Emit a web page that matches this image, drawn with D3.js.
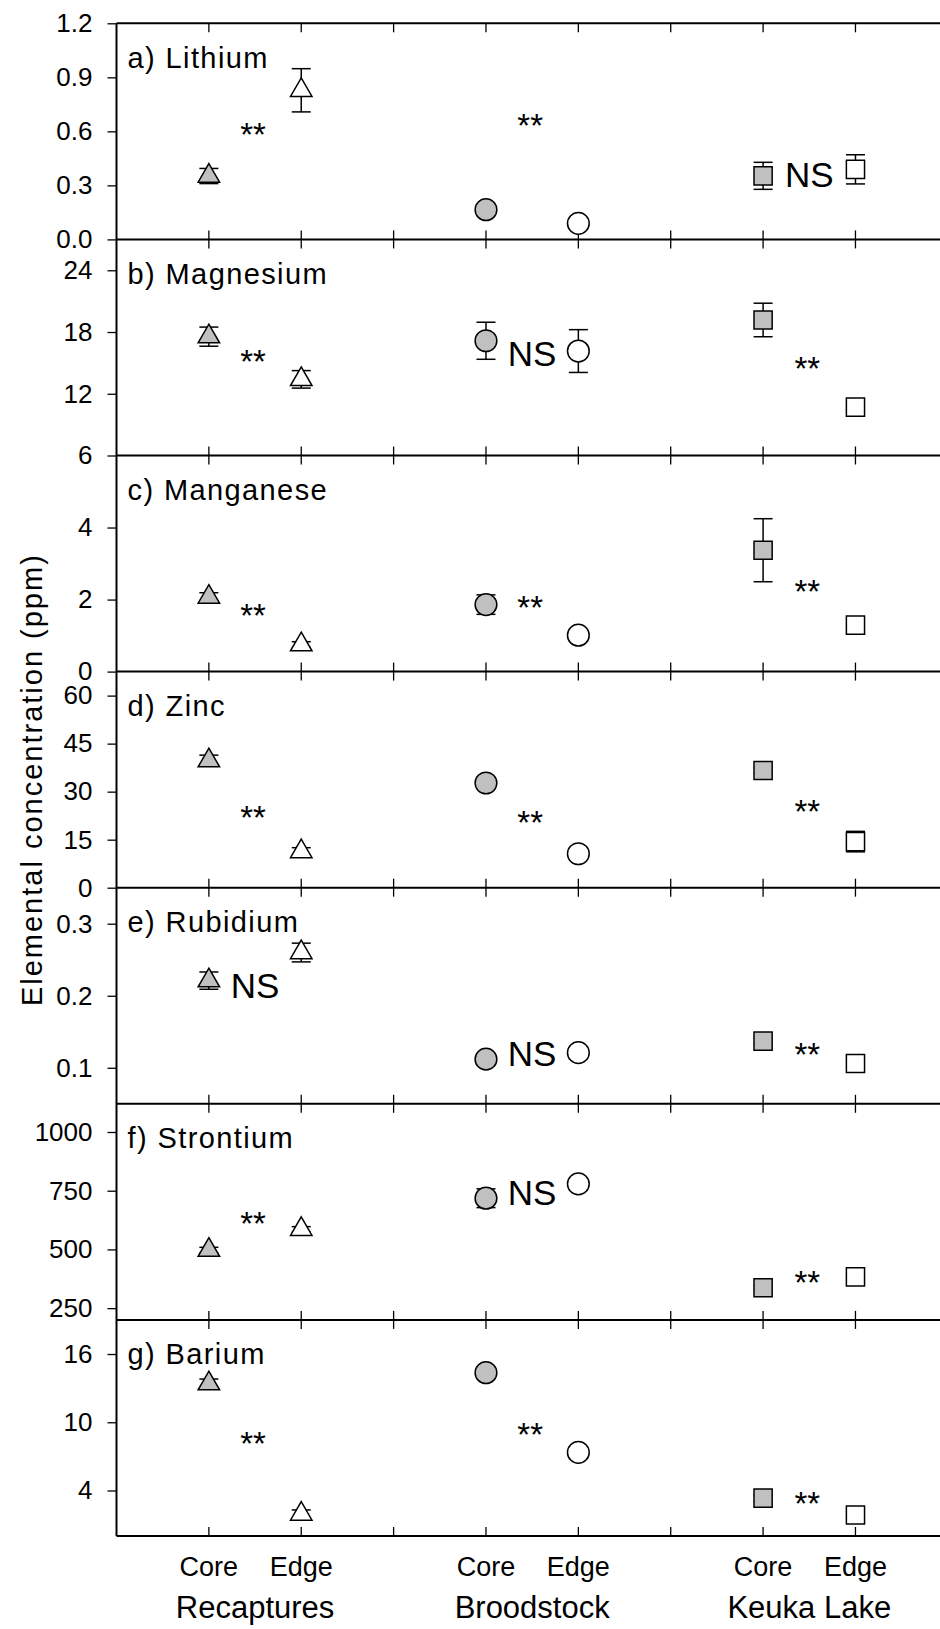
<!DOCTYPE html>
<html><head><meta charset="utf-8">
<script src="https://cdn.jsdelivr.net/npm/d3@7"></script>
<style>
body{margin:0;background:#fff}
svg{display:block}
text{font-family:"Liberation Sans",Arial,Helvetica,sans-serif;fill:#000}
</style>
</head><body>
<svg id="chart" width="940" height="1629"></svg>
<script>
// ---------- DATA ----------
const panelLabels = ["a) Lithium","b) Magnesium","c) Manganese","d) Zinc","e) Rubidium","f) Strontium","g) Barium"];
const groups = ["Recaptures","Broodstock","Keuka Lake"];
const sites = ["Core","Edge"];
const slots = ["Recaptures|Core","Recaptures|Edge","gap1","Broodstock|Core","Broodstock|Edge","gap2","Keuka Lake|Core","Keuka Lake|Edge"];

const yMin = [0, 6, 0, 0, 0.05, 200, 0];
const yMax = [1.2, 27, 6, 67.5, 0.35, 1120, 19];
const yTicks = [
  [0,0.3,0.6,0.9,1.2],
  [6,12,18,24],
  [0,2,4],
  [0,15,30,45,60],
  [0.1,0.2,0.3],
  [250,500,750,1000],
  [4,10,16]
];
const yTickFormats = [".1f","d","d","d",".1f","d","d"];

// means and standard errors, one value per element (a..g)
const recapCore   = [0.352, 17.55, 2.07, 39.7, 0.221, 497, 13.4];
const recapCoreSE = [0.042, 0.93, 0.12, 1.7, 0.012, 12, 0.4];
const recapEdge   = [0.828, 13.4, 0.75, 11.3, 0.260, 586, 1.94];
const recapEdgeSE = [0.120, 0.85, 0.08, 1.2, 0.013, 11, 0.35];
const broodCore   = [0.165, 17.15, 1.86, 32.7, 0.112, 718, 14.36];
const broodCoreSE = [0.010, 1.80, 0.27, 1.0, 0.004, 40, 0.3];
const broodEdge   = [0.089, 16.15, 1.01, 10.6, 0.121, 779, 7.35];
const broodEdgeSE = [0.010, 2.08, 0.05, 0.5, 0.004, 15, 0.2];
const keukaCore   = [0.353, 19.17, 3.37, 36.6, 0.137, 337, 3.33];
const keukaCoreSE = [0.075, 1.63, 0.875, 0.8, 0.004, 10, 0.3];
const keukaEdge   = [0.389, 10.7, 1.29, 14.4, 0.106, 383, 1.85];
const keukaEdgeSE = [0.081, 0.3, 0.05, 3.2, 0.004, 10, 0.3];

// significance annotations: text per element per group, and y value
const sigRecap   = ["**","**","**","**","NS","**","**"];
const sigRecapY  = [0.604, 15.5, 1.67, 23.1, 0.2125, 626, 8.47];
const sigBrood   = ["**","NS","**","**","NS","NS","**"];
const sigBroodY  = [0.656, 15.8, 1.9, 21.75, 0.1186, 740, 9.27];
const sigKeuka   = ["NS","**","**","**","**","**","**"];
const sigKeukaY  = [0.354, 14.8, 2.34, 25.2, 0.1246, 377, 3.24];

// ---------- BUILD ----------
const series = [
  {group:"Recaptures", site:"Core", shape:"triangle", mean:recapCore, se:recapCoreSE},
  {group:"Recaptures", site:"Edge", shape:"triangle", mean:recapEdge, se:recapEdgeSE},
  {group:"Broodstock", site:"Core", shape:"circle",   mean:broodCore, se:broodCoreSE},
  {group:"Broodstock", site:"Edge", shape:"circle",   mean:broodEdge, se:broodEdgeSE},
  {group:"Keuka Lake", site:"Core", shape:"square",   mean:keukaCore, se:keukaCoreSE},
  {group:"Keuka Lake", site:"Edge", shape:"square",   mean:keukaEdge, se:keukaEdgeSE}
];
const sigs = [
  {group:"Recaptures", text:sigRecap, y:sigRecapY},
  {group:"Broodstock", text:sigBrood, y:sigBroodY},
  {group:"Keuka Lake", text:sigKeuka, y:sigKeukaY}
];

(function(){
const svg = d3.select("#chart");
const plotL = 116.5, plotT = 23.3, panelH = 216.1, step = 92.37;
const nP = panelLabels.length;
const plotB = plotT + nP*panelH;

const x = d3.scalePoint().domain(slots).range([plotL, plotL + step*9]).padding(1);
const midX = g => (x(g+"|Core") + x(g+"|Edge"))/2;

const fill = {Core:"#c0c0c0", Edge:"#ffffff"};
const sym = {
  triangle: d3.symbol().type(d3.symbolTriangle).size(200),
  circle: d3.symbol().type(d3.symbolCircle).size(370),
  square: d3.symbol().type(d3.symbolSquare).size(330)
};

for (let i = 0; i < nP; i++) {
  const y0 = plotT + i*panelH, y1 = y0 + panelH;
  const y = d3.scaleLinear().domain([yMin[i], yMax[i]]).range([y1, y0]);
  const g = svg.append("g");

  const ax = g.append("g").attr("transform", `translate(${plotL},0)`)
    .call(d3.axisLeft(y).tickValues(yTicks[i]).tickSize(9).tickPadding(15).tickFormat(d3.format(yTickFormats[i])));
  ax.select(".domain").remove();
  ax.selectAll(".tick line").attr("stroke","#000").attr("stroke-width",1.3);
  ax.selectAll(".tick text").attr("font-size",26).attr("fill","#000");
  ax.attr("font-family",null);

  g.selectAll(".tt").data(slots).join("line")
    .attr("x1", d=>x(d)).attr("x2", d=>x(d)).attr("y1", y0).attr("y2", y0+9)
    .attr("stroke","#000").attr("stroke-width",1.3);
  g.selectAll(".tb").data(slots).join("line")
    .attr("x1", d=>x(d)).attr("x2", d=>x(d)).attr("y1", y1).attr("y2", y1-9)
    .attr("stroke","#000").attr("stroke-width",1.3);

  g.append("text").attr("x", plotL+11).attr("y", y0+44.5)
    .attr("font-size",29).attr("letter-spacing","1.4px").text(panelLabels[i]);

  series.forEach(s => {
    const cx = x(s.group+"|"+s.site);
    const m = s.mean[i], e = s.se[i];
    const ya = y(m+e), yb = y(m-e);
    g.append("line").attr("x1",cx).attr("x2",cx).attr("y1",ya).attr("y2",yb)
      .attr("stroke","#000").attr("stroke-width",1.5);
    [ya,yb].forEach(yy => g.append("line").attr("x1",cx-9.5).attr("x2",cx+9.5)
      .attr("y1",yy).attr("y2",yy).attr("stroke","#000").attr("stroke-width",1.5));
  });
  series.forEach(s => {
    const cx = x(s.group+"|"+s.site);
    g.append("path").attr("d", sym[s.shape]())
      .attr("transform", `translate(${cx},${y(s.mean[i])})`)
      .attr("fill", fill[s.site]).attr("stroke","#000").attr("stroke-width",1.5);
  });
  sigs.forEach(s => {
    const t = s.text[i];
    g.append("text").attr("x", midX(s.group) - (t==="NS" ? 0 : 2)).attr("y", y(s.y[i]))
      .attr("text-anchor","middle")
      .attr("font-size", t==="NS" ? 35 : 33)
      .attr("dy", t==="NS" ? "0.33em" : "0.47em")
      .text(t);
  });
}

for (let i = 0; i <= nP; i++) {
  const yy = plotT + i*panelH;
  svg.append("line").attr("x1",plotL).attr("x2",940).attr("y1",yy).attr("y2",yy)
    .attr("stroke","#000").attr("stroke-width",2);
}
svg.append("line").attr("x1",plotL).attr("x2",plotL).attr("y1",plotT).attr("y2",plotB)
  .attr("stroke","#000").attr("stroke-width",2);

series.forEach(s => {
  svg.append("text").attr("x", x(s.group+"|"+s.site)).attr("y", plotB+39.7)
    .attr("text-anchor","middle").attr("font-size",27).text(s.site);
});
groups.forEach(gname => {
  svg.append("text").attr("x", midX(gname)).attr("y", plotB+82.3)
    .attr("text-anchor","middle").attr("font-size",31).text(gname);
});

svg.append("text").attr("transform", `translate(41.7,${(plotT+plotB)/2}) rotate(-90)`)
  .attr("text-anchor","middle").attr("font-size",29).attr("letter-spacing","2px")
  .text("Elemental concentration (ppm)");
})();
</script>
</body></html>
